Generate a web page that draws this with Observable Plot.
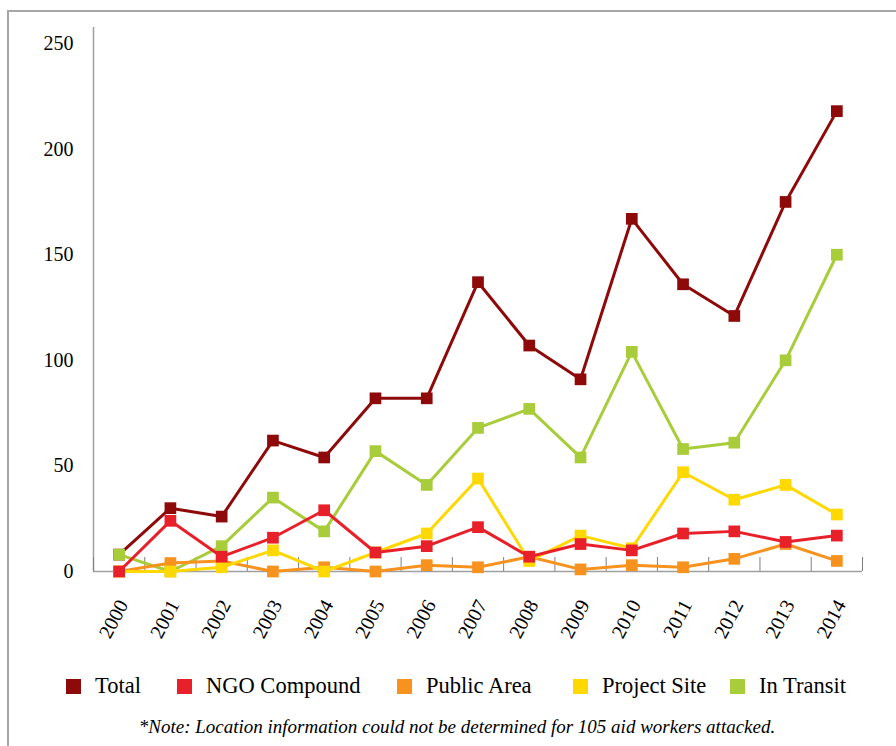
<!DOCTYPE html>
<html>
<head>
<meta charset="utf-8">
<script src="https://cdn.jsdelivr.net/npm/d3@7"></script>
<script src="https://cdn.jsdelivr.net/npm/@observablehq/plot@0.6"></script>
<style>
  html, body { margin: 0; padding: 0; background: #fff; }
  #wrap { position: relative; width: 896px; height: 746px; overflow: hidden; font-family: "Liberation Serif", "LiberationSerif", Tinos, "DejaVu Serif", serif; color: #000; }
  #frame { position: absolute; left: 7px; top: 10px; right: -10px; bottom: -10px; border-top: 2px solid #a6a6a6; border-left: 2px solid #a6a6a6; pointer-events: none; }
  #chart { position: absolute; left: 0; top: 0; }
  #legend { position: absolute; left: 0; top: 671px; width: 896px; height: 30px; }
  .item { position: absolute; top: 0; height: 30px; display: flex; align-items: center; font-size: 22.5px; white-space: nowrap; }
  .sw { width: 15px; height: 15px; margin-right: 14px; }
  #note { position: absolute; left: 0; top: 716px; width: 914px; text-align: center; font-style: italic; font-size: 19px; line-height: 22px; }
</style>
</head>
<body>
<div id="wrap">
  <div id="frame"></div>
  <div id="chart"></div>
  <div id="legend"></div>
  <div id="note">*Note: Location information could not be determined for 105 aid workers attacked.</div>
</div>
<script>
const years = [2000, 2001, 2002, 2003, 2004, 2005, 2006, 2007, 2008, 2009, 2010, 2011, 2012, 2013, 2014];
const total       = [8, 30, 26, 62, 54, 82, 82, 137, 107, 91, 167, 136, 121, 175, 218];
const ngoCompound = [0, 24, 7, 16, 29, 9, 12, 21, 7, 13, 10, 18, 19, 14, 17];
const publicArea  = [0, 4, 5, 0, 2, 0, 3, 2, 7, 1, 3, 2, 6, 13, 5];
const projectSite = [0, 0, 2, 10, 0, 9, 18, 44, 5, 17, 11, 47, 34, 41, 27];
const inTransit   = [8, 0, 12, 35, 19, 57, 41, 68, 77, 54, 104, 58, 61, 100, 150];
const yTicks = [0, 50, 100, 150, 200, 250];

const seriesNames  = ["Total", "NGO Compound", "Public Area", "Project Site", "In Transit"];
const seriesValues = [total, ngoCompound, publicArea, projectSite, inTransit];
const seriesColors = ["#8e0a0a", "#e8202a", "#f7921e", "#ffd800", "#a8cc3a"];
// drawing order (bottom to top)
const drawOrder = ["Total", "In Transit", "Public Area", "Project Site", "NGO Compound"];
const legendX = [66, 177, 397, 573, 730];

const boundaries = years.map(y => y - 0.5).concat([years[years.length - 1] + 0.5]);
const serif = '"Liberation Serif", "LiberationSerif", Tinos, "DejaVu Serif", serif';

const marks = [
  Plot.ruleY([0], {stroke: "#a0a0a0", strokeWidth: 1.5}),
  Plot.ruleX([boundaries[0]], {stroke: "#a0a0a0", strokeWidth: 1.5}),
  Plot.ruleX(boundaries, {y1: 0, y2: 0, insetTop: -14, stroke: "#808080", strokeWidth: 1}),
  Plot.axisY({ticks: yTicks, tickSize: 0, tickPadding: 20, fontSize: 20, fontFamily: serif, tickFormat: d => String(d), label: null}),
  Plot.axisX({ticks: years, tickSize: 0, tickPadding: 30, tickRotate: -62, dx: 4, fontSize: 20, fontFamily: serif, tickFormat: d => String(d), label: null})
];

for (const name of drawOrder) {
  const i = seriesNames.indexOf(name);
  const data = years.map((y, j) => ({year: y, value: seriesValues[i][j]}));
  marks.push(Plot.line(data, {x: "year", y: "value", stroke: seriesColors[i], strokeWidth: 3}));
  marks.push(Plot.dot(data, {x: "year", y: "value", symbol: "square", r: 6.6, fill: seriesColors[i], stroke: "none"}));
}

const chart = Plot.plot({
  width: 896,
  height: 655,
  marginLeft: 93,
  marginRight: 34,
  marginTop: 27,
  marginBottom: 84,
  style: {fontFamily: serif, color: "#000", background: "transparent", overflow: "visible"},
  x: {domain: [boundaries[0], boundaries[boundaries.length - 1]]},
  y: {domain: [0, 257.6]},
  marks
});
document.getElementById("chart").appendChild(chart);

const legend = document.getElementById("legend");
seriesNames.forEach((name, i) => {
  const item = document.createElement("div");
  item.className = "item";
  item.style.left = legendX[i] + "px";
  const sw = document.createElement("div");
  sw.className = "sw";
  sw.style.background = seriesColors[i];
  const label = document.createElement("span");
  label.textContent = name;
  item.appendChild(sw);
  item.appendChild(label);
  legend.appendChild(item);
});
</script>
</body>
</html>
